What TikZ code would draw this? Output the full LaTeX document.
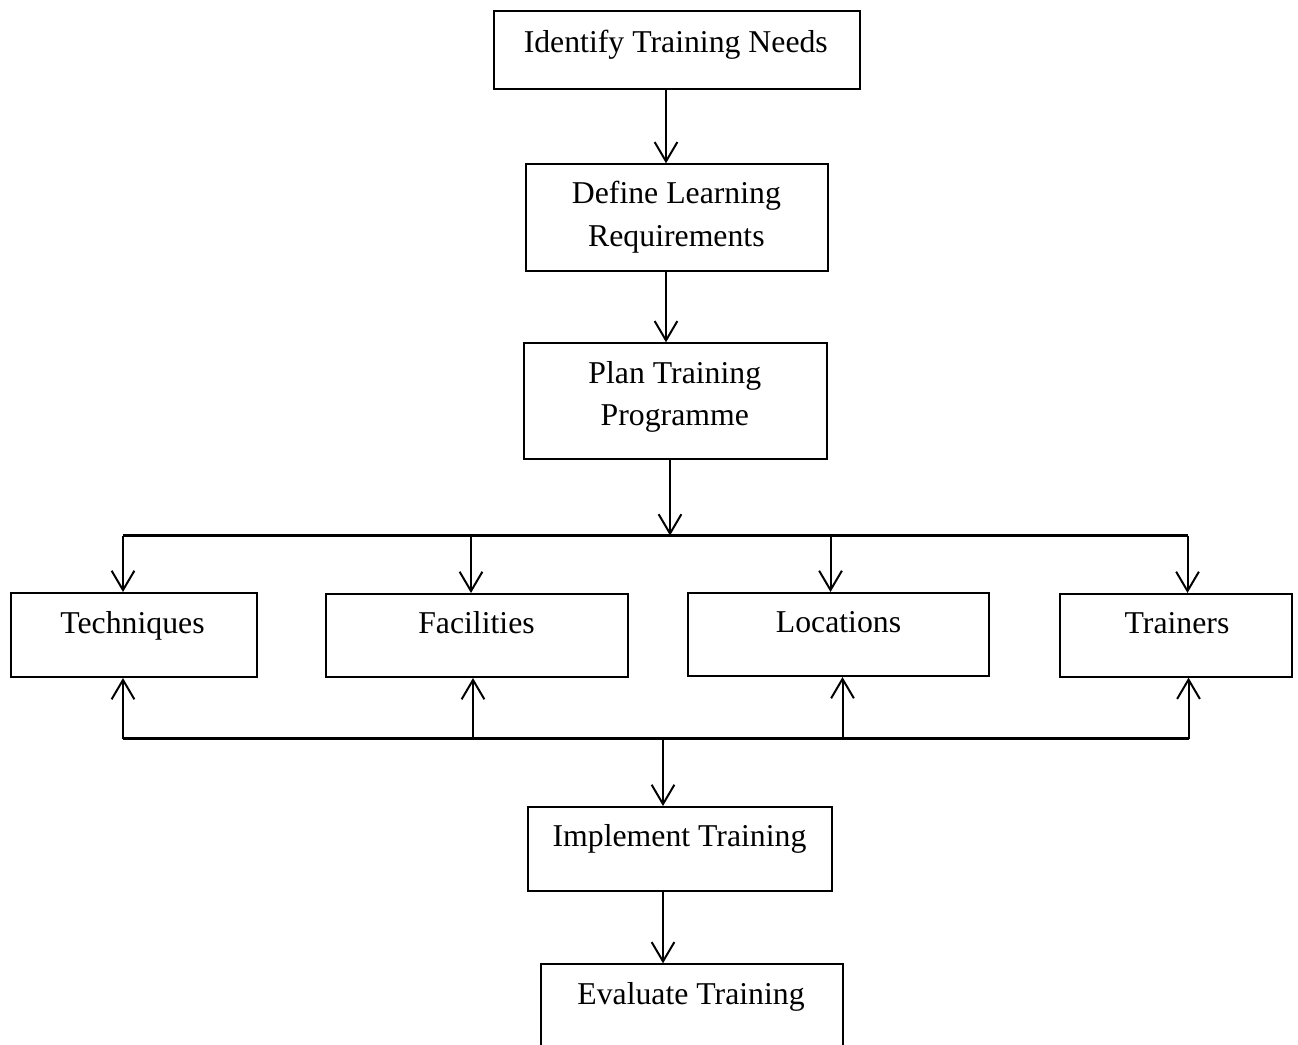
\documentclass[tikz,border=0pt]{standalone}
\usepackage{fontspec}
\setmainfont{Liberation Serif}
\usetikzlibrary{arrows.meta}
\newcommand\pxu{0.3778pt}
\begin{document}
\begin{tikzpicture}[x=0.3778pt, y=-0.3778pt,
  box/.style={draw, line width=0.75pt, inner sep=0pt},
  txt/.style={anchor=base, align=center, inner sep=0pt, font=\fontsize{12}{16.1}\selectfont},
  arr/.style={line width=0.75pt, -{Straight Barb[length=7.3pt,width=8.6pt,line width=0.75pt]}},
  bus/.style={line width=0.8pt}]
\path[use as bounding box, clip] (0,0) rectangle (1298,1044);
\fill[white] (0,0) rectangle (1298,1044);
% boxes
\node[box, minimum width=366*\pxu, minimum height=78*\pxu] (b1) at (677,50) {};
\node[txt] (t1) at (675.8,52) {Identify Training Needs};
\node[box, minimum width=302*\pxu, minimum height=106.4*\pxu] (b2) at (676.7,217.5) {};
\node[txt] (t2) at (676.4,246.5) {Define Learning\\Requirements};
\node[box, minimum width=302.7*\pxu, minimum height=116*\pxu] (b3) at (675.3,401.3) {};
\node[txt] (t3) at (674.8,425.7) {Plan Training\\Programme};
\node[box, minimum width=246*\pxu, minimum height=84*\pxu] (b4) at (134,635) {};
\node[txt] (t4) at (132.5,633) {Techniques};
\node[box, minimum width=302*\pxu, minimum height=83*\pxu] (b5) at (477,635.5) {};
\node[txt] (t5) at (476.5,633) {Facilities};
\node[box, minimum width=301.3*\pxu, minimum height=83*\pxu] (b6) at (838.4,634.5) {};
\node[txt] (t6) at (838.5,632) {Locations};
\node[box, minimum width=232*\pxu, minimum height=82.7*\pxu] (b7) at (1176,635.3) {};
\node[txt] (t7) at (1177,633) {Trainers};
\node[box, minimum width=304*\pxu, minimum height=84*\pxu] (b8) at (680,849) {};
\node[txt] (t8) at (679.5,846.7) {Implement Training};
\node[box, minimum width=302*\pxu, minimum height=86*\pxu] (b9) at (691.7,1007.3) {};
\node[txt] (t9) at (691,1004.3) {Evaluate Training};
% coordinates
\coordinate (c12) at (666,0);
\coordinate (c23) at (666,0);
\coordinate (c3) at (670,535.5);
\coordinate (tl) at (123,535.5);
\coordinate (t5c) at (471,535.5);
\coordinate (t6c) at (830.5,535.5);
\coordinate (tr) at (1187.5,535.5);
\coordinate (bl) at (123,738.5);
\coordinate (b5c) at (473,738.5);
\coordinate (b6c) at (842.5,738.5);
\coordinate (br) at (1188.5,738.5);
\coordinate (cm) at (663,738.5);
\coordinate (c89) at (663,0);
% connectors
\draw[arr] (b1.south -| c12) -- (b2.north -| c12);
\draw[arr] (b2.south -| c23) -- (b3.north -| c23);
\draw[arr] (b3.south -| c3) -- (c3);
\draw[bus] (tl) -- (tr);
\draw[arr] (tl) -- (b4.north -| tl);
\draw[arr] (t5c) -- (b5.north -| t5c);
\draw[arr] (t6c) -- (b6.north -| t6c);
\draw[arr] (tr) -- (b7.north -| tr);
\draw[bus] (bl) -- (br);
\draw[arr] (bl) -- (b4.south -| bl);
\draw[arr] (b5c) -- (b5.south -| b5c);
\draw[arr] (b6c) -- (b6.south -| b6c);
\draw[arr] (br) -- (b7.south -| br);
\draw[arr] (cm) -- (b8.north -| cm);
\draw[arr] (b8.south -| c89) -- (b9.north -| c89);
\end{tikzpicture}
\end{document}
